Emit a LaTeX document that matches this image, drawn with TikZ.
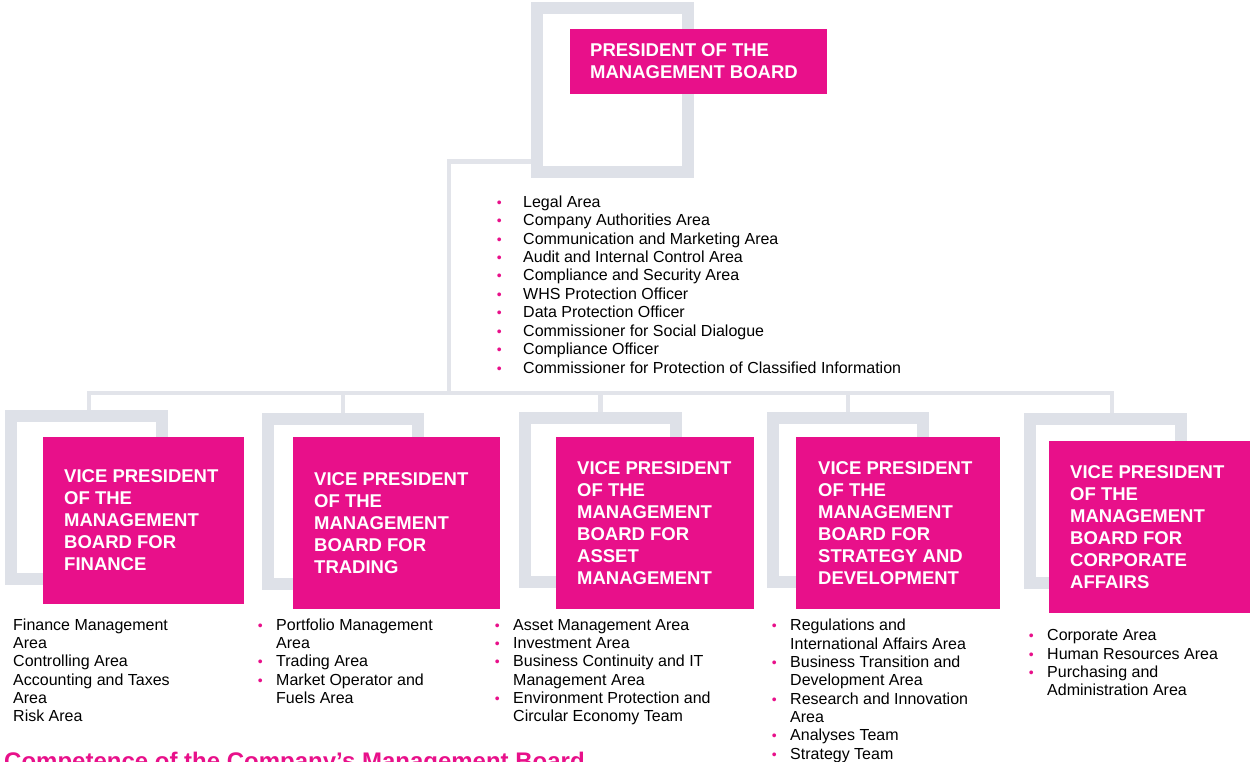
\documentclass[tikz,border=0pt]{standalone}
\usepackage{fontspec}
\setmainfont{Liberation Sans}
\definecolor{brand}{HTML}{E8108A}
\definecolor{framegray}{HTML}{DEE1E8}
\definecolor{linegray}{HTML}{E2E4EA}
% pink list bullet hanging to the left of the item text
\newcommand{\pinkdot}{\textcolor{brand}{\fontsize{14}{14}\selectfont\textbullet}}
\newcommand{\bitem}[1]{\llap{\pinkdot\hspace{13.5pt}}#1}
\newcommand{\citem}[1]{\llap{\pinkdot\hspace{21.5pt}}#1}
\begin{document}
\begin{tikzpicture}[x=1pt,y=-1pt,
  frame/.style={draw=framegray, line width=12pt, anchor=north west, inner sep=0pt},
  pinkbox/.style={fill=brand, anchor=north west, inner sep=0pt, outer sep=0pt},
  boxtext/.style={text=white, font=\fontsize{18.5}{22}\selectfont\bfseries, align=left, anchor=west, inner sep=0pt},
  listtext/.style={font=\fontsize{16}{18.3}\selectfont, align=left, anchor=north west, inner sep=0pt},
  conn/.style={draw=linegray, line width=4.5pt}]
\path[use as bounding box] (0,0) rectangle (1250,762);

% connectors
\coordinate (elbow) at (449,161.5);
\coordinate (hub) at (449,393);
\coordinate (busL) at (89,393);
\coordinate (busR) at (1112,393);

% grey frames
\node[frame, minimum width=151, minimum height=164] (ftop) at (531,2) {};
\node[frame, minimum width=151, minimum height=163] (f1) at (5,410) {};
\node[frame, minimum width=150, minimum height=165] (f2) at (262,413) {};
\node[frame, minimum width=151, minimum height=164] (f3) at (519,412) {};
\node[frame, minimum width=150, minimum height=164] (f4) at (767,412) {};
\node[frame, minimum width=151, minimum height=164] (f5) at (1024,413) {};

\draw[conn] (ftop.west |- elbow) -- (elbow) -- (hub);
\draw[conn, line join=miter] (busL |- f1.north) -- (busL) -- (busR) -- (busR |- f5.north);
\draw[conn] (f2.north |- busL) -- (f2.north);
\draw[conn] (f3.north |- busL) -- (f3.north);
\draw[conn] (f4.north |- busL) -- (f4.north);

% magenta boxes
\node[pinkbox, minimum width=257, minimum height=65] (pres) at (570,29) {};
\node[pinkbox, minimum width=201, minimum height=167] (v1) at (43,437) {};
\node[pinkbox, minimum width=207, minimum height=172] (v2) at (293,437) {};
\node[pinkbox, minimum width=198, minimum height=172] (v3) at (556,437) {};
\node[pinkbox, minimum width=204, minimum height=172] (v4) at (796,437) {};
\node[pinkbox, minimum width=201, minimum height=172] (v5) at (1049,441) {};

\node[boxtext] (prest) at ([xshift=20]pres.west) {PRESIDENT OF THE\\MANAGEMENT BOARD};
\node[boxtext] (v1t) at ([xshift=21]v1.west) {VICE PRESIDENT\\OF THE\\MANAGEMENT\\BOARD FOR\\FINANCE};
\node[boxtext] (v2t) at ([xshift=21]v2.west) {VICE PRESIDENT\\OF THE\\MANAGEMENT\\BOARD FOR\\TRADING};
\node[boxtext] (v3t) at ([xshift=21]v3.west) {VICE PRESIDENT\\OF THE\\MANAGEMENT\\BOARD FOR\\ASSET\\MANAGEMENT};
\node[boxtext] (v4t) at ([xshift=22]v4.west) {VICE PRESIDENT\\OF THE\\MANAGEMENT\\BOARD FOR\\STRATEGY AND\\DEVELOPMENT};
\node[boxtext] (v5t) at ([xshift=21]v5.west) {VICE PRESIDENT\\OF THE\\MANAGEMENT\\BOARD FOR\\CORPORATE\\AFFAIRS};

% lists of areas
\node[listtext, font=\fontsize{16}{18.44}\selectfont] (plist) at (523,194.1) {\strut\citem{Legal Area}\\
  \citem{Company Authorities Area}\\
  \citem{Communication and Marketing Area}\\
  \citem{Audit and Internal Control Area}\\
  \citem{Compliance and Security Area}\\
  \citem{WHS Protection Officer}\\
  \citem{Data Protection Officer}\\
  \citem{Commissioner for Social Dialogue}\\
  \citem{Compliance Officer}\\
  \citem{Commissioner for Protection of Classified Information}};

\node[listtext] (l1) at (13,617.2) {\strut Finance Management\\Area\\Controlling Area\\Accounting and Taxes\\Area\\Risk Area};
\node[listtext] (l2) at (276,617.2) {\strut\bitem{Portfolio Management}\\Area\\\bitem{Trading Area}\\\bitem{Market Operator and}\\Fuels Area};
\node[listtext] (l3) at (513,617.2) {\strut\bitem{Asset Management Area}\\\bitem{Investment Area}\\\bitem{Business Continuity and IT}\\Management Area\\\bitem{Environment Protection and}\\Circular Economy Team};
\node[listtext] (l4) at (790,617.9) {\strut\bitem{Regulations and}\\International Affairs Area\\\bitem{Business Transition and}\\Development Area\\\bitem{Research and Innovation}\\Area\\\bitem{Analyses Team}\\\bitem{Strategy Team}};
\node[listtext] (l5) at (1047,627.9) {\strut\bitem{Corporate Area}\\\bitem{Human Resources Area}\\\bitem{Purchasing and}\\Administration Area};

% heading below the chart
\node[anchor=base west, inner sep=0pt, text=brand, font=\fontsize{24}{28}\selectfont\bfseries] (title) at (4,769) {Competence of the Company’s Management Board};
\end{tikzpicture}
\end{document}
